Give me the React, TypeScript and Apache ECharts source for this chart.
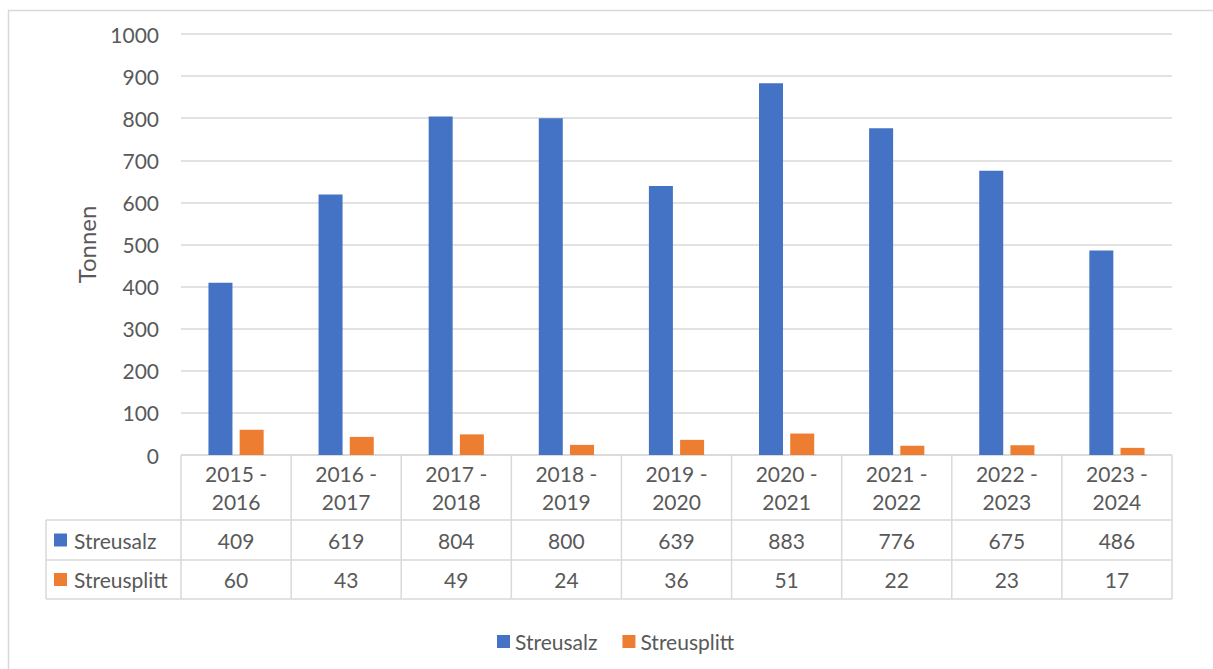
import React, { useEffect, useRef } from "react";
import * as echarts from "echarts";

const categories = [
  "2015 - 2016",
  "2016 - 2017",
  "2017 - 2018",
  "2018 - 2019",
  "2019 - 2020",
  "2020 - 2021",
  "2021 - 2022",
  "2022 - 2023",
  "2023 - 2024",
];
const streusalz = [409, 619, 804, 800, 639, 883, 776, 675, 486];
const streusplitt = [60, 43, 49, 24, 36, 51, 22, 23, 17];
const seriesNames = ["Streusalz", "Streusplitt"];
const colors = ["#4472C4", "#ED7D31"];
const yTitle = "Tonnen";

const FONT = "Lato, 'Liberation Sans', sans-serif";
const TXT = "#595959";
const LINE = "#d9d9d9";

export default function App() {
  const ref = useRef<HTMLDivElement>(null);
  useEffect(() => {
    if (!ref.current) return;
    const chart = echarts.init(ref.current, undefined, { renderer: "svg" });
    const rows = [0, 65, 105, 144];
    const lineStyle = { stroke: LINE, lineWidth: 1.5 };
    const option: any = {
      animation: false,
      backgroundColor: "#ffffff",
      textStyle: { fontFamily: FONT },
      graphic: [
        {
          type: "rect",
          shape: { x: 8.5, y: 10.5, width: 1220, height: 700 },
          style: { fill: "none", stroke: LINE, lineWidth: 1.5 },
          silent: true,
        },
      ],
      legend: {
        data: seriesNames,
        left: 492,
        top: 626,
        itemWidth: 13,
        itemHeight: 13,
        itemGap: 25,
        icon: "rect",
        textStyle: { color: TXT, fontSize: 21, fontFamily: FONT },
      },
      grid: [
        { left: 181, right: 41, top: 34, height: 421 },
        { left: 181, right: 41, top: 455, height: 144 },
      ],
      xAxis: [
        {
          type: "category",
          gridIndex: 0,
          data: categories,
          axisLine: { show: false },
          axisTick: { show: false },
          axisLabel: { show: false },
        },
        {
          type: "category",
          gridIndex: 1,
          data: categories,
          show: false,
        },
      ],
      yAxis: [
        {
          type: "value",
          gridIndex: 0,
          min: 0,
          max: 1000,
          interval: 100,
          name: yTitle,
          nameLocation: "middle",
          nameRotate: 90,
          nameGap: 83,
          nameTextStyle: { color: TXT, fontSize: 24, fontFamily: FONT },
          axisLine: { show: false },
          axisTick: { show: false },
          axisLabel: {
            color: TXT,
            fontSize: 21,
            margin: 22,
            fontFamily: FONT,
            formatter: (v: number) => String(v),
          },
          splitLine: { lineStyle: { color: LINE, width: 1.5 } },
        },
        {
          type: "value",
          gridIndex: 1,
          min: 0,
          max: 144,
          inverse: true,
          show: false,
        },
      ],
      series: [
        {
          name: seriesNames[0],
          type: "bar",
          xAxisIndex: 0,
          yAxisIndex: 0,
          data: streusalz,
          barWidth: 24,
          barGap: "30%",
          itemStyle: { color: colors[0] },
        },
        {
          name: seriesNames[1],
          type: "bar",
          xAxisIndex: 0,
          yAxisIndex: 0,
          data: streusplitt,
          barWidth: 24,
          barGap: "30%",
          itemStyle: { color: colors[1] },
        },
        {
          type: "custom",
          xAxisIndex: 1,
          yAxisIndex: 1,
          silent: true,
          data: categories.map((_, i) => [i, 0]),
          renderItem: (params: any, api: any) => {
            const idx = api.value(0);
            const bw = api.size([1, 0])[0];
            const c = api.coord([idx, 0]);
            const x0 = c[0] - bw / 2;
            const x1 = c[0] + bw / 2;
            const ys = rows.map((r) => api.coord([idx, r])[1]);
            const children: any[] = [];
            ys.forEach((y) =>
              children.push({ type: "line", shape: { x1: x0, y1: y, x2: x1, y2: y }, style: lineStyle })
            );
            children.push({ type: "line", shape: { x1: x1, y1: ys[0], x2: x1, y2: ys[3] }, style: lineStyle });
            if (idx === 0) {
              children.push({ type: "line", shape: { x1: x0, y1: ys[0], x2: x0, y2: ys[3] }, style: lineStyle });
              const lx = x0 - 135;
              [1, 2, 3].forEach((k) =>
                children.push({ type: "line", shape: { x1: lx, y1: ys[k], x2: x0, y2: ys[k] }, style: lineStyle })
              );
              children.push({ type: "line", shape: { x1: lx, y1: ys[1], x2: lx, y2: ys[3] }, style: lineStyle });
              [0, 1].forEach((s) => {
                const cy = (ys[s + 1] + ys[s + 2]) / 2;
                children.push({
                  type: "rect",
                  shape: { x: lx + 8, y: cy - 6.5, width: 13, height: 13 },
                  style: { fill: colors[s] },
                });
                children.push({
                  type: "text",
                  x: lx + 28,
                  y: cy,
                  style: {
                    text: seriesNames[s],
                    fill: TXT,
                    fontSize: 21,
                    fontFamily: FONT,
                    align: "left",
                    verticalAlign: "middle",
                  },
                });
              });
            }
            const parts = categories[idx].split(" - ");
            children.push({
              type: "text",
              x: c[0],
              y: (ys[0] + ys[1]) / 2,
              style: {
                text: parts[0] + " -\n" + parts[1],
                fill: TXT,
                fontSize: 21,
                fontFamily: FONT,
                lineHeight: 28,
                align: "center",
                verticalAlign: "middle",
              },
            });
            [streusalz[idx], streusplitt[idx]].forEach((v, s) => {
              children.push({
                type: "text",
                x: c[0],
                y: (ys[s + 1] + ys[s + 2]) / 2,
                style: {
                  text: String(v),
                  fill: TXT,
                  fontSize: 21,
                  fontFamily: FONT,
                  align: "center",
                  verticalAlign: "middle",
                },
              });
            });
            return { type: "group", children };
          },
        },
      ],
    };
    chart.setOption(option);
    return () => chart.dispose();
  }, []);
  return (
    <div
      ref={ref}
      style={{ position: "absolute", left: 0, top: 0, width: 1213, height: 669 }}
    />
  );
}
